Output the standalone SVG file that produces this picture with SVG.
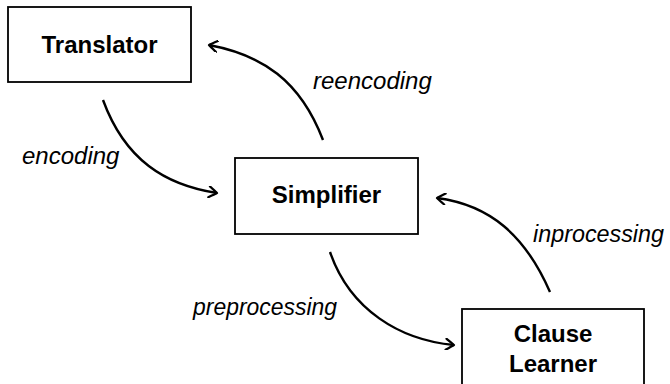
<svg xmlns="http://www.w3.org/2000/svg" width="670" height="384" viewBox="0 0 670 384">
<defs>
<style>
.box{fill:#fff;stroke:#000;stroke-width:1.8}
.nl{font-family:"Liberation Sans",Arial,sans-serif;font-weight:bold;font-size:24px;text-anchor:middle;fill:#000}
.el{font-family:"Liberation Sans",Arial,sans-serif;font-style:italic;font-size:24px;fill:#000}
.edge{fill:none;stroke:#000;stroke-width:2.4;marker-end:url(#arr)}
</style>
<marker id="arr" viewBox="-10 -6 12 12" markerWidth="12" markerHeight="12" refX="0" refY="0" orient="auto" markerUnits="userSpaceOnUse">
<path d="M-8,-5.5 Q-2,-1.5 0,0 Q-2,1.5 -8,5.5" fill="none" stroke="#000" stroke-width="2.2" stroke-linecap="round" stroke-linejoin="round"/>
</marker>
</defs>
<rect width="670" height="384" fill="#fff"/>
<g id="connectors">
<path class="edge" d="M103,100 C125,160 165,185 217,193"/>
<path class="edge" d="M323,140 C300,80 262,55 209,45"/>
<path class="edge" d="M330,252 C350,310 400,340 454,345"/>
<path class="edge" d="M550,292 C525,235 490,205 437,198"/>
<text class="el" x="22" y="164">encoding</text>
<text class="el" x="313" y="89">reencoding</text>
<text class="el" x="193" y="315" textLength="144" lengthAdjust="spacingAndGlyphs">preprocessing</text>
<text class="el" x="533" y="242" textLength="131" lengthAdjust="spacingAndGlyphs">inprocessing</text>
</g>
<g id="translator">
<rect class="box" x="8" y="7" width="183" height="75"/>
<text class="nl" x="99.5" y="53">Translator</text>
</g>
<g id="simplifier">
<rect class="box" x="235" y="158" width="183" height="76"/>
<text class="nl" x="326.5" y="203">Simplifier</text>
</g>
<g id="clause-learner">
<rect class="box" x="462" y="309" width="182" height="76"/>
<text class="nl" x="553" y="342">Clause</text>
<text class="nl" x="553" y="372">Learner</text>
</g>
</svg>
